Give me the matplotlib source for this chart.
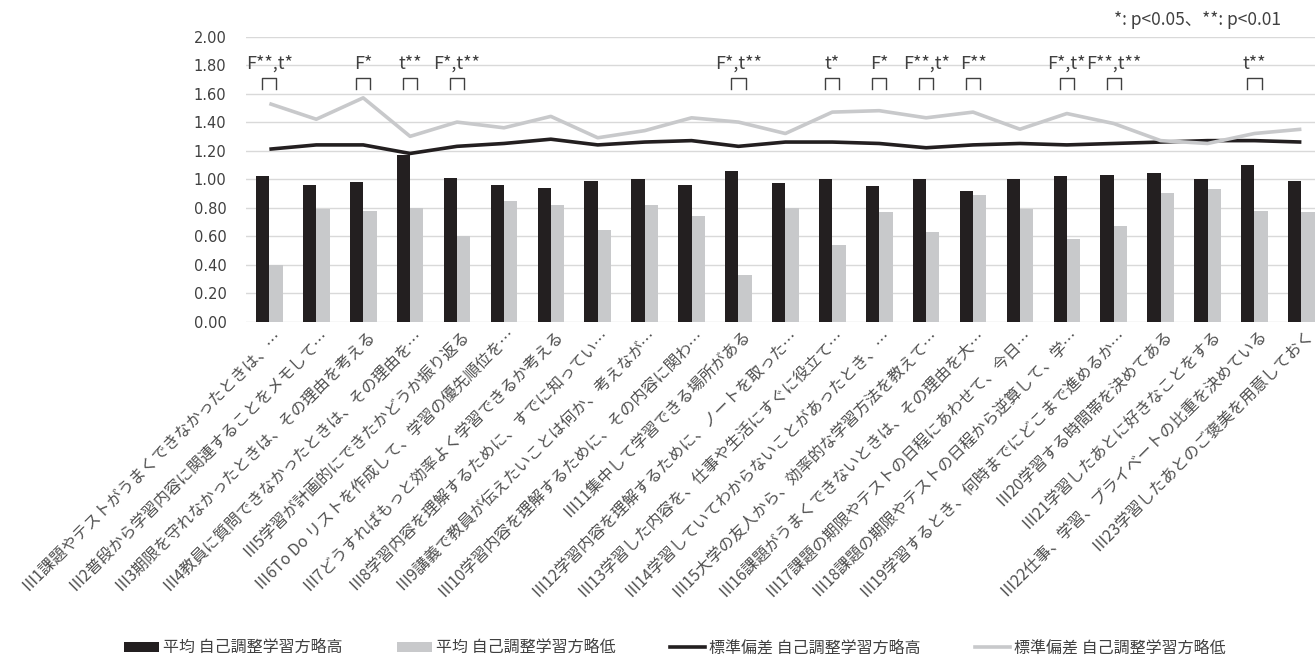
import matplotlib

matplotlib.use("Agg")
import matplotlib.pyplot as plt  # noqa: E402
import matplotlib.transforms as mtransforms  # noqa: E402
import numpy as np  # noqa: E402
from matplotlib.lines import Line2D  # noqa: E402
from matplotlib.patches import Patch  # noqa: E402

plt.rcParams["font.family"] = ["Noto Sans CJK JP", "DejaVu Sans"]

items = [
    "Ⅲ1課題やテストがうまくできなかったときは、…",
    "Ⅲ2普段から学習内容に関連することをメモして…",
    "Ⅲ3期限を守れなかったときは、その理由を考える",
    "Ⅲ4教員に質問できなかったときは、その理由を…",
    "Ⅲ5学習が計画的にできたかどうか振り返る",
    "Ⅲ6To Do リストを作成して、学習の優先順位を…",
    "Ⅲ7どうすればもっと効率よく学習できるか考える",
    "Ⅲ8学習内容を理解するために、すでに知ってい…",
    "Ⅲ9講義で教員が伝えたいことは何か、考えなが…",
    "Ⅲ10学習内容を理解するために、その内容に関わ…",
    "Ⅲ11集中して学習できる場所がある",
    "Ⅲ12学習内容を理解するために、ノートを取った…",
    "Ⅲ13学習した内容を、仕事や生活にすぐに役立て…",
    "Ⅲ14学習していてわからないことがあったとき、…",
    "Ⅲ15大学の友人から、効率的な学習方法を教えて…",
    "Ⅲ16課題がうまくできないときは、その理由を大…",
    "Ⅲ17課題の期限やテストの日程にあわせて、今日…",
    "Ⅲ18課題の期限やテストの日程から逆算して、学…",
    "Ⅲ19学習するとき、何時までにどこまで進めるか…",
    "Ⅲ20学習する時間帯を決めてある",
    "Ⅲ21学習したあとに好きなことをする",
    "Ⅲ22仕事、学習、プライベートの比重を決めている",
    "Ⅲ23学習したあとのご褒美を用意しておく",
]

mean_high = [1.02, 0.96, 0.98, 1.17, 1.01, 0.96, 0.94, 0.99, 1.00, 0.96, 1.06, 0.97,
             1.00, 0.95, 1.00, 0.92, 1.00, 1.02, 1.03, 1.04, 1.00, 1.10, 0.99]
mean_low = [0.40, 0.79, 0.78, 0.80, 0.60, 0.85, 0.82, 0.64, 0.82, 0.74, 0.33, 0.80,
            0.54, 0.77, 0.63, 0.89, 0.79, 0.58, 0.67, 0.90, 0.93, 0.78, 0.77]
sd_high = [1.21, 1.24, 1.24, 1.18, 1.23, 1.25, 1.28, 1.24, 1.26, 1.27, 1.23, 1.26,
           1.26, 1.25, 1.22, 1.24, 1.25, 1.24, 1.25, 1.26, 1.27, 1.27, 1.26]
sd_low = [1.53, 1.42, 1.57, 1.30, 1.40, 1.36, 1.44, 1.29, 1.34, 1.43, 1.40, 1.32,
          1.47, 1.48, 1.43, 1.47, 1.35, 1.46, 1.39, 1.27, 1.25, 1.32, 1.35]

# significance results (item number -> F / t test marks)
sig_items = [1, 3, 4, 5, 11, 13, 14, 15, 16, 18, 19, 22]
sig_marks = ["F**,t*", "F*", "t**", "F*,t**", "F*,t**", "t*", "F*", "F**,t*",
             "F**", "F*,t*", "F**,t**", "t**"]

legend_labels = ["平均 自己調整学習方略高", "平均 自己調整学習方略低",
                 "標準偏差 自己調整学習方略高", "標準偏差 自己調整学習方略低"]

DARK = "#231f20"
LIGHT = "#c8c9cb"
TEXT = "#404040"

fig = plt.figure(figsize=(13.15, 6.57), dpi=100)
ax = fig.add_axes([0.187, 0.5103, 0.8205, 0.4341])

x = np.arange(len(items))
w = 0.284
ax.bar(x - w / 2, mean_high, w, color=DARK, zorder=3)
ax.bar(x + w / 2, mean_low, w, color=LIGHT, zorder=3)
ax.plot(x, sd_high, color=DARK, lw=2.6, zorder=4, solid_capstyle="butt")
ax.plot(x, sd_low, color=LIGHT, lw=2.6, zorder=4, solid_capstyle="butt")

# bracket + test result above each significant item
for num, mark in zip(sig_items, sig_marks):
    c = num - 1
    ax.plot([c - 0.15, c - 0.15, c + 0.15, c + 0.15], [1.63, 1.71, 1.71, 1.63],
            color=TEXT, lw=1.0, solid_joinstyle="round", zorder=5)
    ax.text(c, 1.81, mark, ha="center", va="center", fontsize=13, color=TEXT)

ax.set_xlim(-0.5, len(items) - 0.5)
ax.set_ylim(0, 2.0)
ax.set_yticks(np.arange(0, 2.01, 0.2))
ax.set_yticklabels([f"{v:.2f}" for v in np.arange(0, 2.01, 0.2)],
                   fontsize=10.5, color=TEXT, family=["DejaVu Sans"])
ax.grid(axis="y", color="#d9d9d9", lw=1.0, zorder=0)
ax.set_axisbelow(True)
for s in ax.spines.values():
    s.set_visible(False)
ax.tick_params(axis="both", length=0)
ax.tick_params(axis="y", pad=14)

ax.set_xticks(x)
ax.set_xticklabels(items, rotation=45, ha="right", va="center",
                   rotation_mode="anchor", fontsize=11.5, color="#505050")
ax.tick_params(axis="x", pad=8)
shift = mtransforms.ScaledTranslation(10 / 100, 0, fig.dpi_scale_trans)
for lbl in ax.get_xticklabels():
    lbl.set_transform(lbl.get_transform() + shift)

fig.text(0.974, 0.97, "*: p<0.05、**: p<0.01", ha="right", va="center",
         fontsize=12.5, color=TEXT)

handles = [
    Patch(facecolor=DARK),
    Patch(facecolor=LIGHT),
    Line2D([], [], color=DARK, lw=2.6),
    Line2D([], [], color=LIGHT, lw=2.6),
]
fig.legend(handles, legend_labels, loc="center", bbox_to_anchor=(0.513, 0.014),
           ncol=4, frameon=False, fontsize=11.5, handlelength=2.2,
           handleheight=0.6, handletextpad=0.25, columnspacing=3.4,
           labelcolor=TEXT)

fig.savefig("out.png", dpi=100)
plt.close(fig)
